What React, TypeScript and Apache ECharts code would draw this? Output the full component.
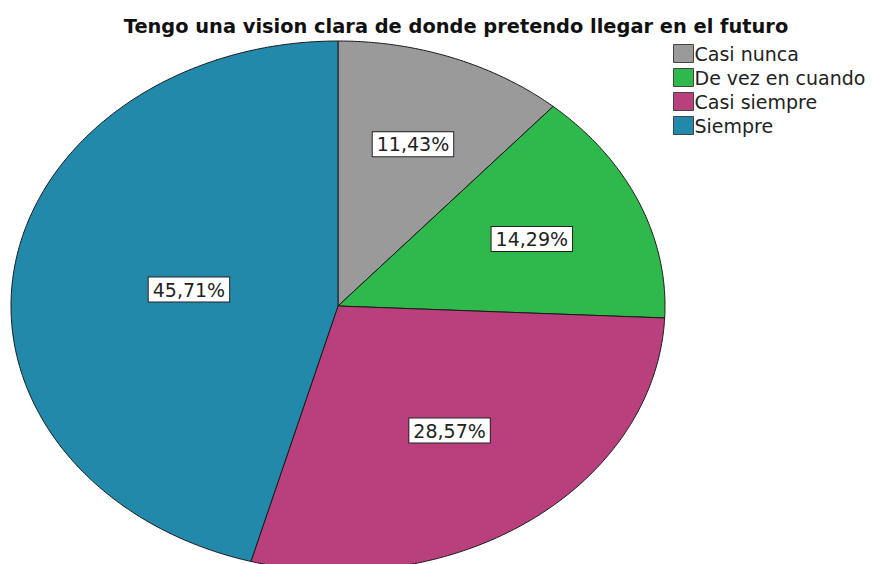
import React, { useEffect, useRef } from "react";
import * as echarts from "echarts";

const TITLE = "Tengo una vision clara de donde pretendo llegar en el futuro";
const CATEGORIES = ["Casi nunca", "De vez en cuando", "Casi siempre", "Siempre"];
const PERCENTS = [11.43, 14.29, 28.57, 45.71];
const COLORS = ["#9a9a9a", "#2fb84b", "#b9407c", "#2389ab"];

// layout of the elliptical pie
const CX = 338;
const CY = 306;
const RX = 327;
const RY = 265;

const fmt = (v: number) => v.toFixed(2).replace(".", ",") + "%";

export default function App() {
  const ref = useRef<HTMLDivElement>(null);
  useEffect(() => {
    if (!ref.current) return;
    const chart = echarts.init(ref.current, null, { renderer: "svg" });
    const total = PERCENTS.reduce((a, b) => a + b, 0);
    const pt = (deg: number, f: number) => {
      const r = (deg * Math.PI) / 180;
      return [CX + RX * f * Math.sin(r), CY - RY * f * Math.cos(r)];
    };
    const series = CATEGORIES.map((name, i) => ({
      type: "custom",
      name,
      coordinateSystem: "none",
      data: [[PERCENTS[i]]],
      itemStyle: { color: COLORS[i] },
      renderItem: (params: any, api: any) => {
        const si = params.seriesIndex;
        const v = api.value(0);
        let before = 0;
        for (let k = 0; k < si; k++) before += PERCENTS[k];
        const a0 = (before / total) * 360;
        const a1 = ((before + v) / total) * 360;
        const pts: number[][] = [[CX, CY]];
        const steps = Math.max(8, Math.ceil(a1 - a0) * 2);
        for (let s = 0; s <= steps; s++) {
          pts.push(pt(a0 + ((a1 - a0) * s) / steps, 1));
        }
        const half = ((a1 - a0) / 2) * (Math.PI / 180);
        const frac = ((2 / 3) * Math.sin(half)) / half;
        const lp = pt((a0 + a1) / 2, frac);
        return {
          type: "group",
          children: [
            {
              type: "polygon",
              shape: { points: pts },
              style: { fill: COLORS[si], stroke: "#1a1a1a", lineWidth: 1 },
            },
            {
              type: "text",
              z2: 100,
              x: lp[0],
              y: lp[1],
              style: {
                text: fmt(v),
                align: "center",
                verticalAlign: "middle",
                fontFamily: "DejaVu Sans",
                fontSize: 19,
                fill: "#222",
                backgroundColor: "#fff",
                borderColor: "#222",
                borderWidth: 1,
                padding: [3, 4, 2, 4],
              },
            },
          ],
        };
      },
    }));
    chart.setOption({
      animation: false,
      backgroundColor: "#fff",
      title: {
        text: TITLE,
        left: 451,
        textAlign: "center",
        top: 12,
        textStyle: {
          fontFamily: "DejaVu Sans",
          fontWeight: "bold",
          fontSize: 19.4,
          color: "#111",
        },
      },
      legend: {
        orient: "vertical",
        left: 668,
        top: 39,
        itemWidth: 20,
        itemHeight: 18,
        itemGap: 5,
        icon: "rect",
        data: CATEGORIES,
        itemStyle: { borderColor: "#444", borderWidth: 1 },
        textStyle: {
          fontFamily: "DejaVu Sans",
          fontSize: 19,
          color: "#222",
          padding: [0, 0, 0, -4],
        },
        selectedMode: false,
      },
      series,
    } as any);
    return () => chart.dispose();
  }, []);
  return (
    <div
      ref={ref}
      style={{ position: "fixed", left: 0, top: 0, width: 873, height: 564 }}
    />
  );
}
